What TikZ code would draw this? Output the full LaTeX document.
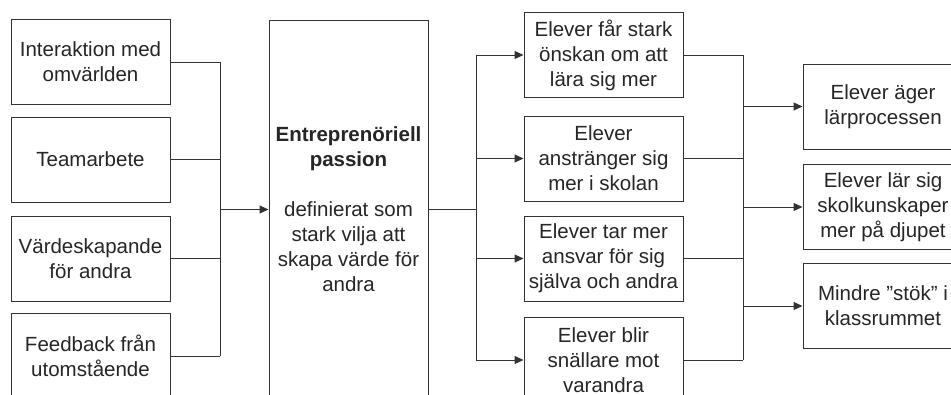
\documentclass[tikz,border=0pt]{standalone}
\usepackage{fontspec}
\setmainfont{Liberation Sans}
\usetikzlibrary{arrows.meta}

\tikzset{
	box/.style={draw=black!80,line width=1pt,minimum width=159pt,minimum height=85pt,
		inner sep=0pt,align=center,text=black!85,font=\fontsize{20.5}{25}\selectfont},
	link/.style={draw=black!80,line width=1pt},
	feed/.style={link,-{Stealth[length=9pt,width=8pt,inset=0pt]}}
}

\begin{document}
\begin{tikzpicture}[x=1pt,y=-1pt]
	\clip (0,0) rectangle (951,394);
	\fill[white] (0,0) rectangle (951,394);

	%left column
	\node[box] (in1) at (90.5,62)	{Interaktion med\\omvärlden};
	\node[box] (in2) at (90.5,159.5)	{Teamarbete};
	\node[box] (in3) at (90.5,258.5)	{Värdeskapande\\för andra};
	\node[box] (in4) at (90.5,356)	{Feedback från\\utomstående};

	%middle box
	\node[box,minimum height=379pt] (pass) at (348.5,209.5)
		{\textbf{Entreprenöriell}\\\textbf{passion}\\[25pt]definierat som\\stark vilja att\\skapa värde för\\andra};

	%third column
	\node[box] (out1) at (603.5,55)	{Elever får stark\\önskan om att\\lära sig mer};
	\node[box] (out2) at (603.5,158.5)	{Elever\\anstränger sig\\mer i skolan};
	\node[box] (out3) at (603.5,258.5)	{Elever tar mer\\ansvar för sig\\själva och andra};
	\node[box] (out4) at (603.5,360)	{Elever blir\\snällare mot\\varandra};

	%right column (cut off at the edge)
	\node[box,minimum width=160pt] (res1) at (883,106.5)	{Elever äger\\lärprocessen};
	\node[box,minimum width=160pt] (res2) at (883,207)	{Elever lär sig\\skolkunskaper\\mer på djupet};
	\node[box,minimum width=160pt] (res3) at (883,306)	{Mindre ”stök” i\\klassrummet};

	%junctions
	\coordinate (jL) at (220,209.5);
	\coordinate (jM) at (476,209.5);
	\coordinate (jR) at (743,207);

	%left to middle
	\foreach \k in {1,...,4}
		\draw[link] (in\k.east) -- (in\k.east -| jL);
	\draw[link] (in1.east -| jL) -- (in4.east -| jL);
	\draw[feed] (jL) -- (pass.west);

	%middle to third
	\draw[link] (pass.east) -- (jM);
	\draw[link] (out1.west -| jM) -- (out4.west -| jM);
	\foreach \k in {1,...,4}
		\draw[feed] (out\k.west -| jM) -- (out\k.west);

	%third to right
	\foreach \k in {1,3,4}
		\draw[link] (out\k.east) -- (out\k.east -| jR);
	\draw[link,line width=1.8pt] (out2.east) -- (out2.east -| jR);	%thicker one
	\draw[link] (out1.east -| jR) -- (out4.east -| jR);
	\foreach \k in {1,...,3}
		\draw[feed] (res\k.west -| jR) -- (res\k.west);
\end{tikzpicture}
\end{document}
